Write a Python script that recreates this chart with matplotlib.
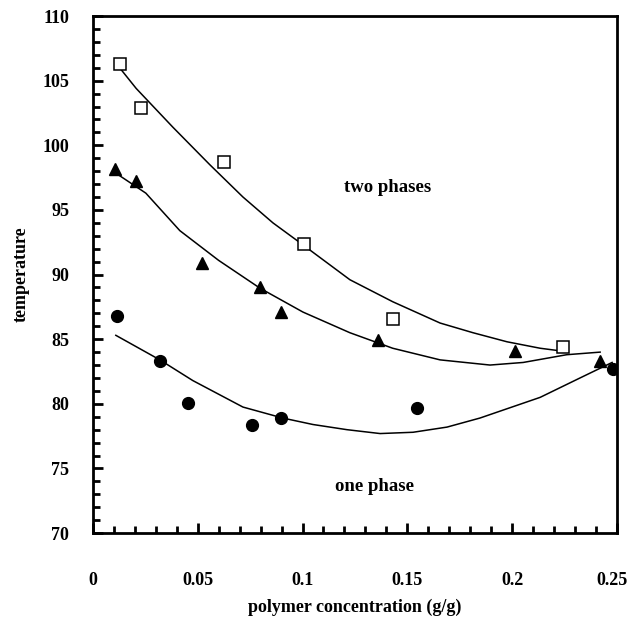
import matplotlib
matplotlib.use("Agg")
import matplotlib.pyplot as plt
import matplotlib.transforms as mtransforms
from matplotlib.ticker import MultipleLocator

plt.rcParams["font.family"] = ["Liberation Serif", "DejaVu Serif"]
plt.rcParams["font.weight"] = "bold"

# measured cloud points
sq_x = [0.013, 0.023, 0.0625, 0.1007, 0.143, 0.224]
sq_y = [106.3, 102.9, 98.7, 92.4, 86.6, 84.4]

tri_x = [0.0105, 0.0205, 0.052, 0.0797, 0.0897, 0.136, 0.2013, 0.242]
tri_y = [98.2, 97.2, 90.9, 89.0, 87.1, 84.9, 84.1, 83.3]

circ_x = [0.0115, 0.032, 0.0453, 0.0759, 0.0897, 0.1546, 0.248]
circ_y = [86.8, 83.3, 80.1, 78.4, 78.9, 79.7, 82.7]

# fitted curves
fit_sq_x = [0.0128, 0.0207, 0.0382, 0.0558, 0.0716, 0.0859, 0.1002, 0.1226,
            0.143, 0.1656, 0.1813, 0.1975, 0.2133, 0.2228]
fit_sq_y = [106.0, 104.4, 101.4, 98.5, 96.0, 94.0, 92.3, 89.6,
            87.9, 86.25, 85.5, 84.8, 84.3, 84.1]

fit_tri_x = [0.0105, 0.0253, 0.0415, 0.0600, 0.0797, 0.1002, 0.1226, 0.143,
             0.1656, 0.1894, 0.2052, 0.226, 0.2419]
fit_tri_y = [97.9, 96.3, 93.4, 91.1, 88.95, 87.1, 85.5, 84.3,
             83.4, 83.0, 83.2, 83.8, 84.0]

fit_circ_x = [0.011, 0.032, 0.0477, 0.0716, 0.0906, 0.105, 0.1212, 0.137,
              0.1527, 0.1689, 0.1846, 0.2133, 0.2323, 0.2476]
fit_circ_y = [85.3, 83.4, 81.8, 79.75, 78.9, 78.4, 78.0, 77.7,
              77.8, 78.2, 78.9, 80.5, 82.0, 83.2]

xtick_vals = [0, 0.05, 0.1, 0.15, 0.2, 0.25]
xtick_text = ["0", "0.05", "0.1", "0.15", "0.2", "0.25"]

fig = plt.figure(figsize=(6.31, 6.17), dpi=100)
ax = fig.add_axes([0.147, 0.136, 0.831, 0.838])

ax.plot(fit_sq_x, fit_sq_y, color="black", linewidth=1.1)
ax.plot(fit_tri_x, fit_tri_y, color="black", linewidth=1.1)
ax.plot(fit_circ_x, fit_circ_y, color="black", linewidth=1.1)

ax.plot(sq_x, sq_y, "s", markersize=8.5, markerfacecolor="white",
        markeredgecolor="black", markeredgewidth=1.1, linestyle="none")
ax.plot(tri_x, tri_y, "^", markersize=8.5, color="black", linestyle="none")
ax.plot(circ_x, circ_y, "o", markersize=8.5, color="black", linestyle="none")

ax.text(0.1407, 96.7, "two phases", ha="center", va="center",
        fontsize=13.5, fontweight="bold")
ax.text(0.1345, 73.6, "one phase", ha="center", va="center",
        fontsize=13.5, fontweight="bold")

ax.set_xlim(0, 0.25)
ax.set_ylim(70, 110)
ax.xaxis.set_minor_locator(MultipleLocator(0.01))
ax.yaxis.set_major_locator(MultipleLocator(5))
ax.yaxis.set_minor_locator(MultipleLocator(1))
ax.set_xticks(xtick_vals)
ax.set_xticklabels(xtick_text)

for s in ax.spines.values():
    s.set_linewidth(2.0)

ax.tick_params(which="major", direction="in", length=7, width=2.0,
               labelsize=13, top=False, right=False)
ax.tick_params(which="minor", direction="in", length=5, width=2.0,
               top=False, right=False)
ax.tick_params(axis="y", which="major", pad=17)
ax.tick_params(axis="x", which="major", pad=28)
for lbl in ax.get_xticklabels() + ax.get_yticklabels():
    lbl.set_fontweight("bold")

# nudge the last x label so it stays inside the figure
last = ax.get_xticklabels()[-1]
last.set_transform(last.get_transform() +
                   mtransforms.ScaledTranslation(-4 / 72, 0, fig.dpi_scale_trans))

ax.set_xlabel("polymer concentration (g/g)", fontsize=13, fontweight="bold",
              labelpad=7)
ax.set_ylabel("temperature", fontsize=13, fontweight="bold", labelpad=9)

fig.savefig("out.png", dpi=100)
